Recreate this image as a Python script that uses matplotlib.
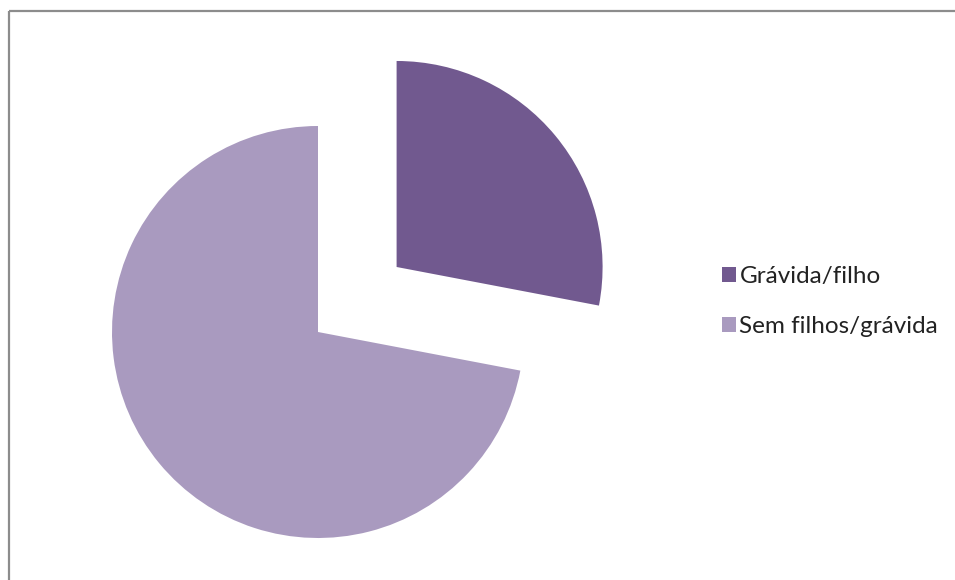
import matplotlib.pyplot as plt

labels = ['Grávida/filho', 'Sem filhos/grávida']
values = [28, 72]
colors = ['#71598F', '#A99ABF']
explode = [102, 0]  # offset in data units (pixels)

fig = plt.figure(figsize=(9.55, 5.8), dpi=100)
ax = fig.add_axes([0, 0, 1, 1])
ax.axis('off')

# pie in pixel-like data units
wedges, _ = ax.pie(values, colors=colors, explode=explode, startangle=90,
                   counterclock=False, radius=206, center=(318, 248),
                   wedgeprops=dict(linewidth=0))
ax.set_xlim(0, 955)
ax.set_ylim(0, 580)
ax.set_aspect('equal')

# chart frame (only top and left visible)
ax.plot([8.5, 955], [569, 569], color='#8c8c8c', lw=1.6, solid_capstyle='butt')
ax.plot([8.5, 8.5], [0, 569], color='#8c8c8c', lw=1.6, solid_capstyle='butt')

leg = ax.legend(wedges, labels, loc='center left', bbox_to_anchor=(0.743, 0.480),
                bbox_transform=fig.transFigure, frameon=False, borderpad=0,
                handlelength=0.58, handleheight=0.58, handletextpad=0.15,
                labelspacing=1.17, prop={'family': 'Lato', 'size': 17.5})
for t in leg.get_texts():
    t.set_color('#222222')

fig.savefig('out.png', dpi=100)
